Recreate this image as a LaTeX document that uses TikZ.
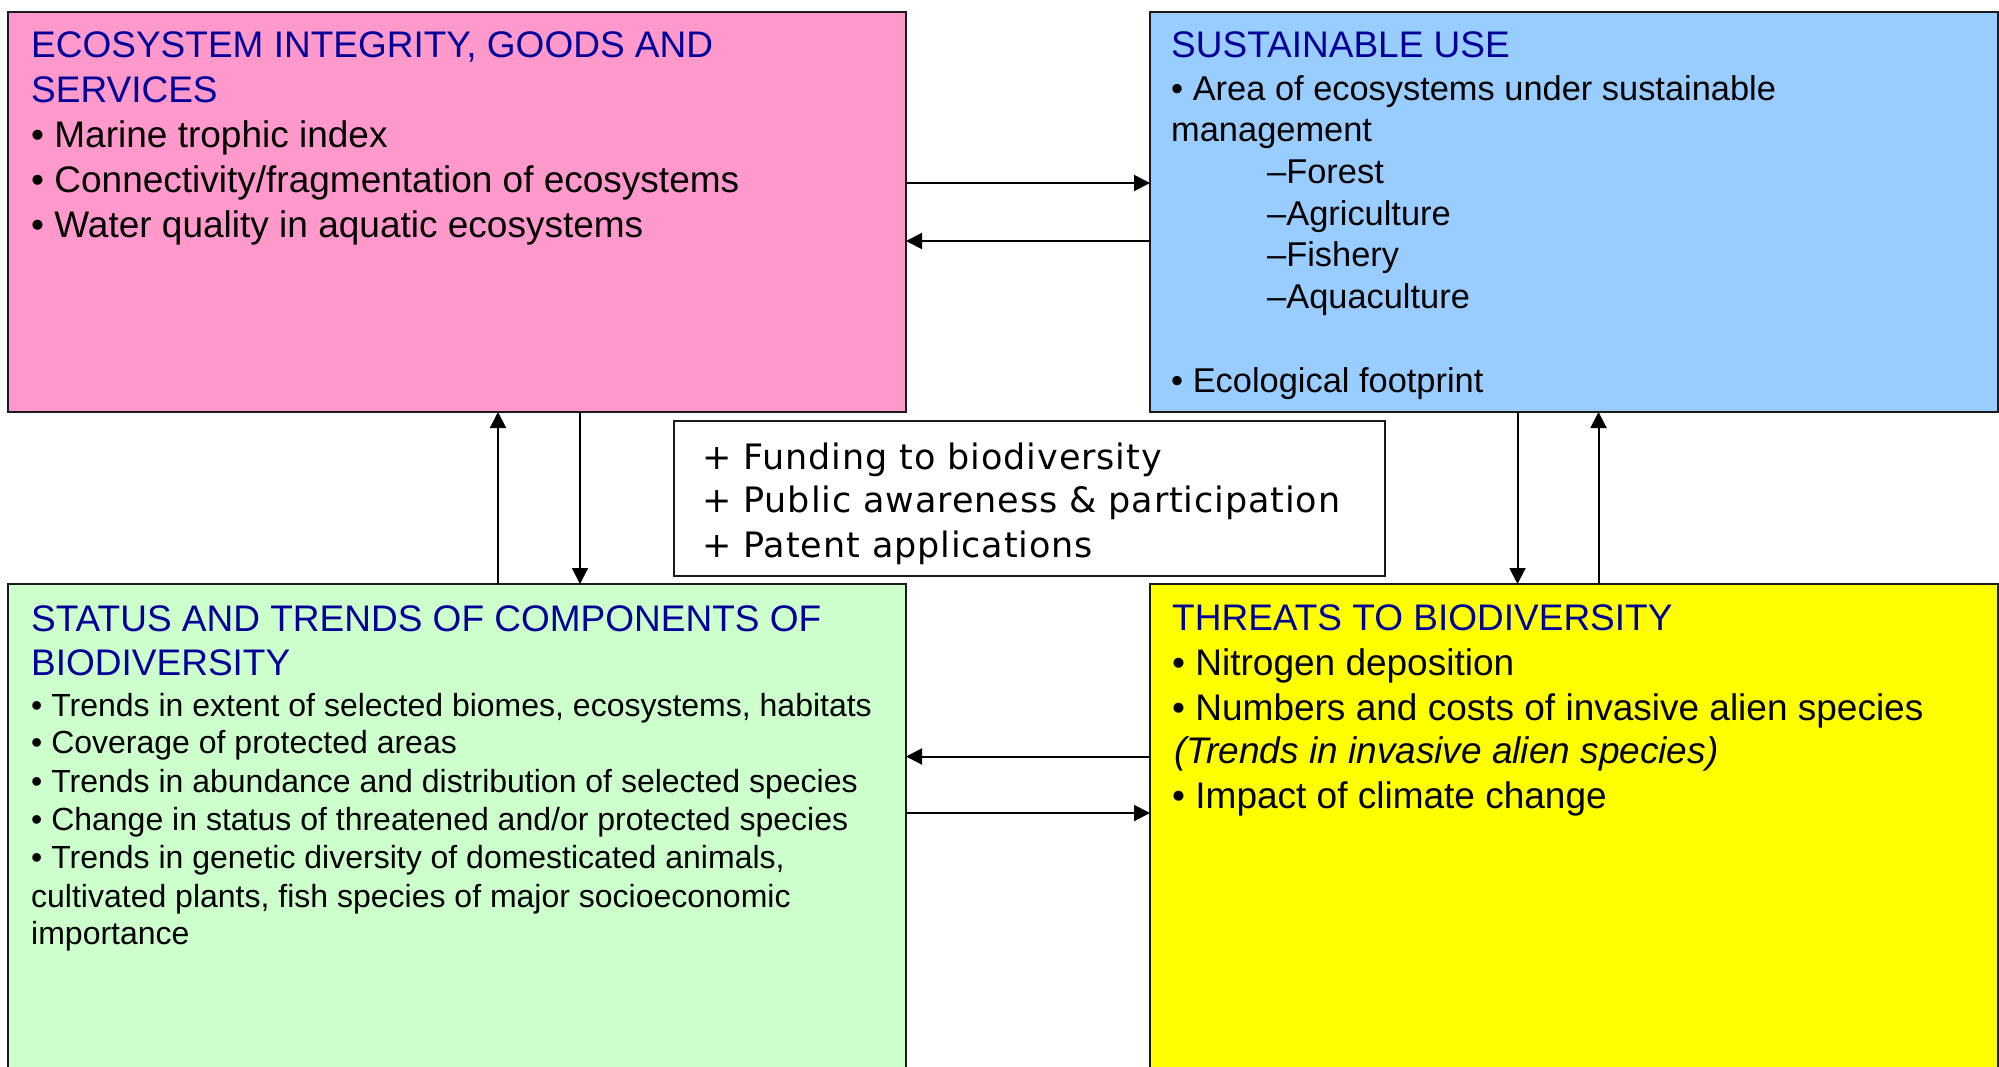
\documentclass[tikz,border=0pt]{standalone}
\usepackage{fontspec}
\setmainfont{Liberation Sans}
\newfontfamily\midfont[LetterSpace=2.5]{DejaVu Sans}
\usetikzlibrary{arrows.meta}
\definecolor{pinkfill}{HTML}{FF99CC}
\definecolor{bluefill}{HTML}{99CCFF}
\definecolor{greenfill}{HTML}{CCFFCC}
\definecolor{yellowfill}{HTML}{FFFF00}
\definecolor{titleblue}{HTML}{000099}
\definecolor{edgegrey}{HTML}{1A1A1A}
\begin{document}
\begin{tikzpicture}[x=1pt,y=-1pt,
  panel/.style={draw=edgegrey, line width=1.6pt, anchor=north west, inner sep=0pt, outer sep=0pt},
  ttl/.style={anchor=base west, inner sep=0pt, text=titleblue, font=\fontsize{37}{44}\selectfont},
  bigtxt/.style={anchor=base west, inner sep=0pt, font=\fontsize{37}{44}\selectfont},
  medtxt/.style={anchor=base west, inner sep=0pt, font=\fontsize{34.4}{42}\selectfont},
  smalltxt/.style={anchor=base west, inner sep=0pt, font=\fontsize{32}{38}\selectfont},
  midtxt/.style={anchor=base west, inner sep=0pt, font=\midfont\fontsize{35}{44}\selectfont},
  arr/.style={draw=black, line width=2pt, -{Triangle[length=16pt,width=16pt]}}
]
\useasboundingbox (0,0) rectangle (1999,1066);
\fill[white] (0,0) rectangle (1999,1066);

% panels
\node[panel, fill=pinkfill, minimum width=898pt, minimum height=400pt] (pink) at (8,12) {};
\node[panel, fill=bluefill, minimum width=848pt, minimum height=400pt] (blue) at (1150,12) {};
\node[panel, fill=greenfill, minimum width=898pt, minimum height=500pt] (green) at (8,584) {};
\node[panel, fill=yellowfill, minimum width=848pt, minimum height=500pt] (yellow) at (1150,584) {};
\node[panel, fill=white, minimum width=711pt, minimum height=155pt] (mid) at (674,421) {};

% pink text
\node[ttl] (pkT1) at (31,57) {ECOSYSTEM INTEGRITY, GOODS AND};
\node[ttl] (pkT2) at (31,102) {SERVICES};
\node[bigtxt] (pk1) at (31,147) {• Marine trophic index};
\node[bigtxt] (pk2) at (31,192) {• Connectivity/fragmentation of ecosystems};
\node[bigtxt] (pk3) at (31,237) {• Water quality in aquatic ecosystems};

% blue text
\node[ttl] (blT) at (1171,57) {SUSTAINABLE USE};
\node[medtxt] (bl1) at (1171,100) {• Area of ecosystems under sustainable};
\node[medtxt] (bl2) at (1171,141) {management};
\node[medtxt] (bl3) at (1267,183) {–Forest};
\node[medtxt] (bl4) at (1267,225) {–Agriculture};
\node[medtxt] (bl5) at (1267,266) {–Fishery};
\node[medtxt] (bl6) at (1267,308) {–Aquaculture};
\node[medtxt] (bl7) at (1171,392) {• Ecological footprint};

% green text
\node[ttl] (grT1) at (31,631) {STATUS AND TRENDS OF COMPONENTS OF};
\node[ttl] (grT2) at (31,675) {BIODIVERSITY};
\node[smalltxt] (gr1) at (31,716) {• Trends in extent of selected biomes, ecosystems, habitats};
\node[smalltxt] (gr2) at (31,753) {• Coverage of protected areas};
\node[smalltxt] (gr3) at (31,792) {• Trends in abundance and distribution of selected species};
\node[smalltxt] (gr4) at (31,830) {• Change in status of threatened and/or protected species};
\node[smalltxt] (gr5) at (31,868) {• Trends in genetic diversity of domesticated animals,};
\node[smalltxt] (gr6) at (31,907) {cultivated plants, fish species of major socioeconomic};
\node[smalltxt] (gr7) at (31,944) {importance};

% yellow text
\node[ttl] (ylT) at (1172,630) {THREATS TO BIODIVERSITY};
\node[bigtxt] (yl1) at (1172,675) {• Nitrogen deposition};
\node[bigtxt] (yl2) at (1172,720) {• Numbers and costs of invasive alien species};
\node[bigtxt] (yl3) at (1174,763) {\itshape (Trends in invasive alien species)};
\node[bigtxt] (yl4) at (1172,808) {• Impact of climate change};

% middle text
\node[midtxt] (md1) at (702,469) {+ Funding to biodiversity};
\node[midtxt] (md2) at (702,512) {+ Public awareness \& participation};
\node[midtxt] (md3) at (702,557) {+ Patent applications};

% connectors
\draw[arr] ([yshift=-171pt]pink.north east) -- ([yshift=-171pt]blue.north west);
\draw[arr] ([yshift=-229pt]blue.north west) -- ([yshift=-229pt]pink.north east);
\draw[arr] ([xshift=490pt]green.north west) -- ([xshift=490pt]pink.south west);
\draw[arr] ([xshift=572pt]pink.south west) -- ([xshift=572pt]green.north west);
\draw[arr] ([xshift=367.5pt]blue.south west) -- ([xshift=367.5pt]yellow.north west);
\draw[arr] ([xshift=448.5pt]yellow.north west) -- ([xshift=448.5pt]blue.south west);
\draw[arr] ([yshift=-172.5pt]yellow.north west) -- ([yshift=-172.5pt]green.north east);
\draw[arr] ([yshift=-229pt]green.north east) -- ([yshift=-229pt]yellow.north west);
\end{tikzpicture}
\end{document}
